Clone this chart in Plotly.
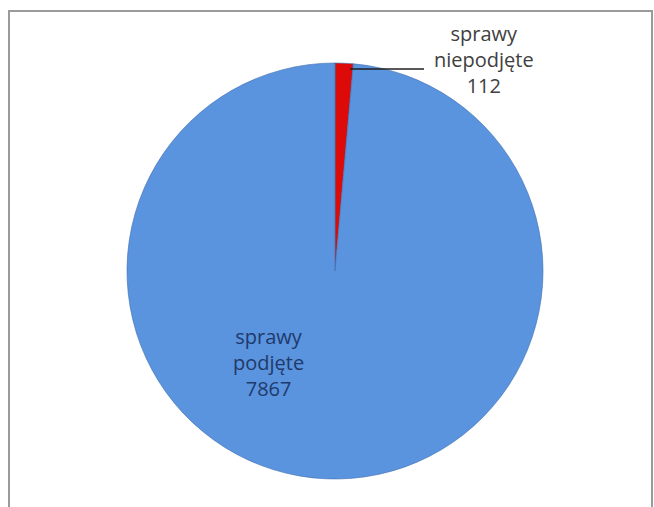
import plotly.graph_objects as go

# Case counts
categories = ["sprawy niepodjęte", "sprawy podjęte"]
values = [112, 7867]
colors = ["#DD0A0A", "#5A93DE"]

W, H = 654, 507
cx, cy, r = 335, 271, 208  # pie centre and radius in pixels

fig = go.Figure(
    go.Pie(
        labels=categories,
        values=values,
        sort=False,
        direction="clockwise",
        rotation=0,
        marker=dict(colors=colors, line=dict(color="#3F6FAF", width=0.6)),
        textinfo="none",
        hoverinfo="label+value",
        showlegend=False,
        domain=dict(
            x=[(cx - r) / W, (cx + r) / W],
            y=[(H - cy - r) / H, (H - cy + r) / H],
        ),
    )
)

def two_line(name):
    a, b = name.split(" ", 1)
    return f"{a}<br>{b}"

label_font = "Open Sans, Lato, sans-serif"

# outside label for the small slice
fig.add_annotation(
    x=484 / W, y=1 - 60 / H, xref="paper", yref="paper",
    xanchor="center", yanchor="middle",
    text=f"{two_line(categories[0])}<br>{values[0]}",
    showarrow=False, align="center",
    font=dict(family=label_font, size=20, color="#404040"),
)
# leader line
fig.add_shape(
    type="line", xref="paper", yref="paper",
    x0=350 / W, x1=424 / W, y0=1 - 69 / H, y1=1 - 69 / H,
    line=dict(color="#202020", width=1.5),
)
# inside label for the large slice
fig.add_annotation(
    x=268 / W, y=1 - 362 / H, xref="paper", yref="paper",
    xanchor="center", yanchor="middle",
    text=f"{two_line(categories[1])}<br>{values[1]}",
    showarrow=False, align="center",
    font=dict(family=label_font, size=20, color="#1F3A6B"),
)
# chart frame
fig.add_shape(
    type="rect", xref="paper", yref="paper",
    x0=9 / W, x1=652 / W, y0=-0.05, y1=1 - 11 / H,
    line=dict(color="#9A9A9A", width=2),
    layer="below",
)

fig.update_layout(
    width=W, height=H,
    margin=dict(l=0, r=0, t=0, b=0),
    paper_bgcolor="white",
    plot_bgcolor="white",
)

fig.write_html("out.html")
